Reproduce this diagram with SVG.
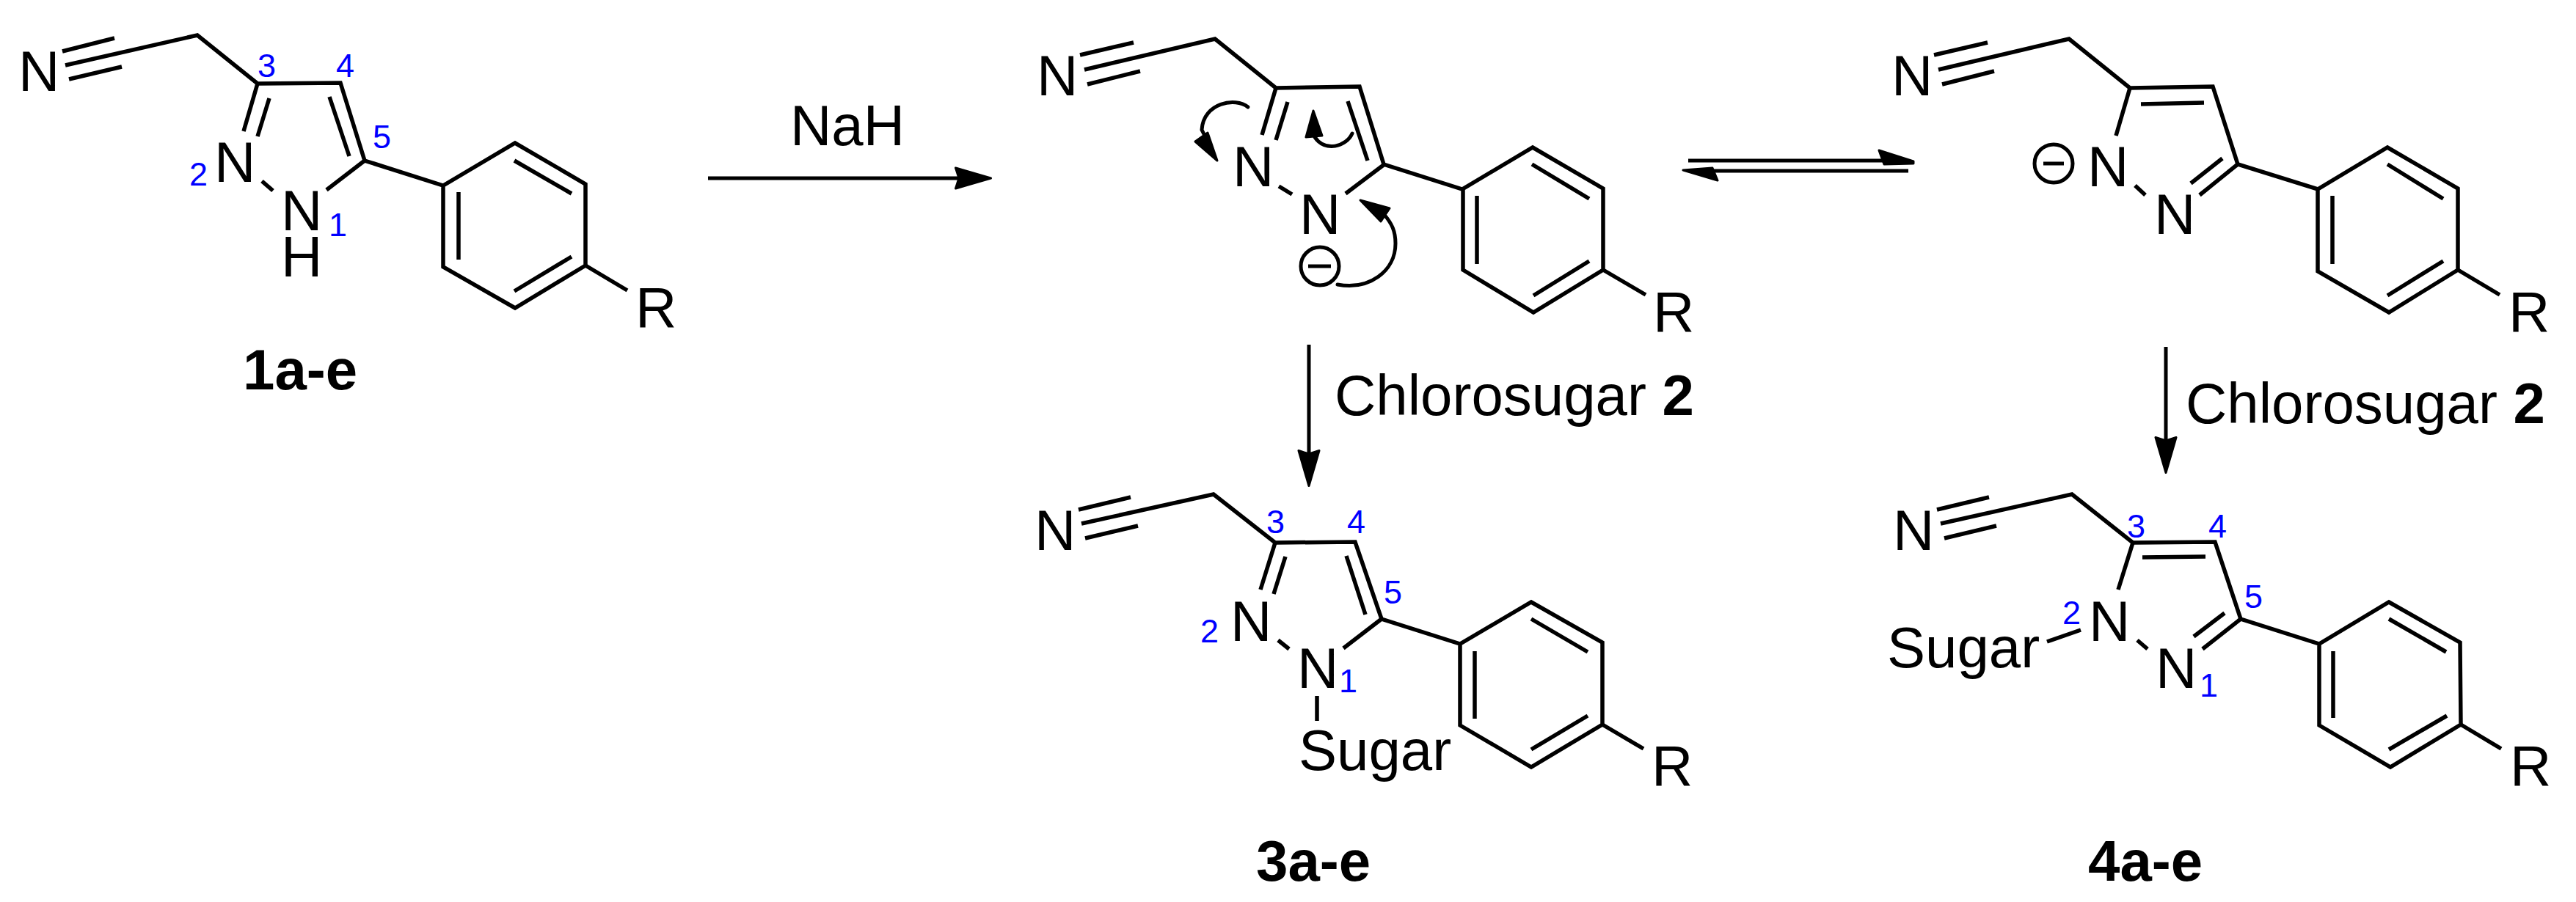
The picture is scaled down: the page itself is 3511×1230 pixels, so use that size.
<svg xmlns="http://www.w3.org/2000/svg" width="3511" height="1230" viewBox="0 0 3511 1230">
<style>
.b{fill:none;stroke:#000;stroke-width:5.5;stroke-linecap:butt;stroke-linejoin:miter}
.a{fill:none;stroke:#000;stroke-width:5;stroke-linecap:round}
.h{fill:#000;stroke:#000;stroke-width:3;stroke-linejoin:round}
.s{fill:none;stroke:#000;stroke-width:5}
text{font-family:"Liberation Sans",Arial,sans-serif;font-size:78px;fill:#000}
.n{font-size:45px;fill:#0000ff}
.t{font-weight:bold}
</style>
<defs>
<marker id="head" markerUnits="userSpaceOnUse" markerWidth="54" markerHeight="34" refX="6" refY="17" orient="auto">
<path d="M1.5,3 L49.5,17 L1.5,31 L6,17 Z" fill="#000" stroke="#000" stroke-width="3" stroke-linejoin="round"/>
</marker>
</defs>
<rect width="3511" height="1230" fill="#fff"/>
<g id="mol1">
<path class="b" d="M89,89L269,48L351,114L464,113L497,219L604,253L702,195L798,251V362L702,420L604,364V253"/>
<path class="b" d="M85,70L156,52M94,108L166,91M351,114L332,179M367,134L351,186M449,132L476,213M357,247L372,260M497,219L445,259M701,219L779,264M779,350L701,397M625,262V354M798,362L855,396"/>
<text x="25" y="124">N</text><text x="292" y="248">N</text><text x="383" y="314">N</text><text x="383" y="377">H</text><text x="866" y="446">R</text>
<text class="n" x="351" y="105">3</text><text class="n" x="458" y="105">4</text><text class="n" x="508" y="202">5</text><text class="n" x="258" y="253">2</text><text class="n" x="448" y="322">1</text>
<text class="t" x="331" y="531">1a-e</text>
</g>
<g id="mol2">
<path class="b" d="M1478,95L1656,53L1739,120L1853,118L1886,224L1993,258L2089,201L2185,257V368L2090,426L1994,368V258"/>
<path class="b" d="M1472,75L1545,58M1482,115L1554,97M1739,120L1720,184M1755,139L1739,191M1837,138L1864,219M1743,254L1761,265M1887,224L1834,264M2088,224L2166,271M2166,356L2090,403M2013,267V360M2185,368L2243,402"/>
<text x="1413" y="130">N</text><text x="1680" y="254">N</text><text x="1771" y="319">N</text><text x="2253" y="452">R</text>
<circle class="s" cx="1799" cy="363" r="26"/><path class="s" d="M1783,363H1814"/>
</g>
<g id="mol3">
<path class="b" d="M2642,95L2820,53L2903,120L3016,118L3050,224L3159,258L3254,201L3350,257V368L3256,426L3159,370V258"/>
<path class="b" d="M2636,75L2709,58M2647,115L2718,97M2903,120L2884,185M2918,142L3004,140M2910,253L2924,266M3050,224L2998,266M3029,216L2986,250M3254,224L3330,271M3330,356L3254,403M3179,267V360M3350,368L3407,402"/>
<text x="2578" y="130">N</text><text x="2845" y="254">N</text><text x="2936" y="319">N</text><text x="3419" y="452">R</text>
<circle class="s" cx="2799" cy="223" r="26"/><path class="s" d="M2785,223H2813"/>
</g>
<g id="mol4">
<path class="b" d="M1474,714L1654,674L1738,740L1847,739L1883,844L1990,878L2087,821L2184,876V988L2087,1046L1990,989V878"/>
<path class="b" d="M1470,695L1541,678M1479,734L1551,717M1738,740L1718,804M1752,759L1736,810M1835,758L1861,838M1742,873L1757,885M1883,844L1831,884M2087,844L2164,889M2164,976L2087,1022M2010,888V980M2184,988L2240,1021M1795,949V983"/>
<text x="1410" y="750">N</text><text x="1677" y="874">N</text><text x="1768" y="938">N</text><text x="2251" y="1071">R</text><text x="1770" y="1050">Sugar</text>
<text class="n" x="1726" y="727">3</text><text class="n" x="1836" y="727">4</text><text class="n" x="1886" y="823">5</text><text class="n" x="1636" y="876">2</text><text class="n" x="1825" y="944">1</text>
<text class="t" x="1712" y="1201">3a-e</text>
</g>
<g id="mol5">
<path class="b" d="M2645,714L2824,674L2907,740L3019,739L3054,844L3161,878L3256,821L3353,876L3354,988L3258,1046L3161,989V878"/>
<path class="b" d="M2640,695L2711,678M2650,734L2721,717M2907,740L2887,804M2920,760L3006,759M3054,844L3002,885M3032,836L2990,868M2913,873L2927,885M3256,844L3334,889M3335,976L3256,1022M3180,888V979M3354,988L3409,1021M2790,875L2836,859"/>
<text x="2580" y="750">N</text><text x="2847" y="874">N</text><text x="2938" y="938">N</text><text x="3421" y="1071">R</text><text x="2572" y="910">Sugar</text>
<text class="n" x="2899" y="733">3</text><text class="n" x="3010" y="733">4</text><text class="n" x="3059" y="829">5</text><text class="n" x="2811" y="851">2</text><text class="n" x="2998" y="950">1</text>
<text class="t" x="2846" y="1201">4a-e</text>
</g>
<g id="connectors">
<path class="s" d="M965,243H1307" marker-end="url(#head)"/>
<path class="s" d="M1784,470V619" marker-end="url(#head)"/>
<path class="s" d="M2952,473V601" marker-end="url(#head)"/>
<path class="s" d="M2301,219H2590"/>
<polygon class="h" points="2561,205 2608,220 2608,223 2568,224"/>
<path class="s" d="M2601,233H2320"/>
<polygon class="h" points="2294,232 2334,229 2341,246"/>
<path class="a" d="M1701,146C1684,132 1640,140 1638,177L1643,187"/>
<polygon class="h" points="1659,219 1629,193 1646,181"/>
<path class="a" d="M1843,182C1835,200 1806,208 1792,187"/>
<polygon class="h" points="1790,151 1780,187 1802,185"/>
<path class="a" d="M1823,388C1866,396 1902,370 1902,332C1902,315 1897,305 1887,293"/>
<polygon class="h" points="1854,273 1894,284 1882,302"/>
</g>
<g id="labels">
<text x="1077" y="198">NaH</text>
<text x="1819" y="566">Chlorosugar <tspan class="t">2</tspan></text>
<text x="2979" y="577">Chlorosugar <tspan class="t">2</tspan></text>
</g>
</svg>
